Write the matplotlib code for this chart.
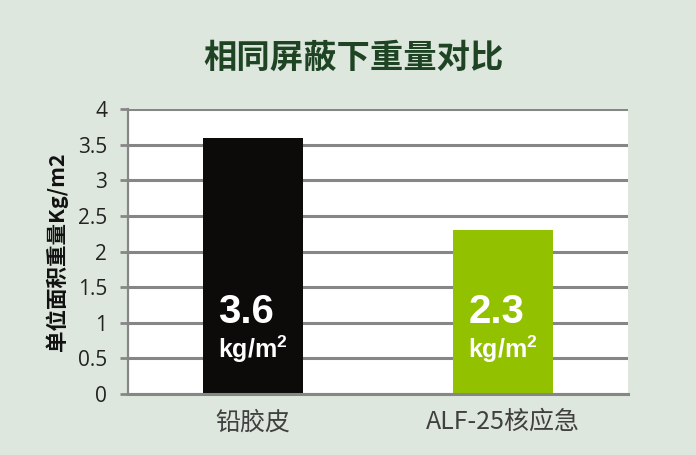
import matplotlib
matplotlib.use('Agg')
import matplotlib.pyplot as plt

categories = ['铅胶皮', 'ALF-25核应急']
weights = [3.6, 2.3]
value_labels = ['3.6', '2.3']
bar_colors = ['#0c0b0a', '#92c100']
y_ticks = [0, 0.5, 1, 1.5, 2, 2.5, 3, 3.5, 4]
y_tick_labels = ['0', '0.5', '1', '1.5', '2', '2.5', '3', '3.5', '4']

bg = '#dee7de'
grid_gray = '#868686'
cjk = ['Noto Sans CJK SC', 'DejaVu Sans']

plt.rcParams['mathtext.fontset'] = 'custom'
plt.rcParams['mathtext.bf'] = 'Liberation Sans:bold'
plt.rcParams['mathtext.rm'] = 'Liberation Sans:bold'

fig = plt.figure(figsize=(6.96, 4.55), dpi=100, facecolor=bg)
ax = fig.add_axes([128 / 696, 61 / 455, 500 / 696, 285 / 455])
ax.set_facecolor('white')

x = list(range(len(categories)))
ax.bar(x, weights, width=0.4, color=bar_colors, zorder=3)

ax.set_xlim(-0.5, len(categories) - 0.5)
ax.set_ylim(0, 4)
ax.set_yticks(y_ticks)
ax.set_yticklabels(y_tick_labels, fontsize=15, color='#222222', family=['Open Sans', 'DejaVu Sans'])
ax.set_xticks(x)
ax.set_xticklabels(categories, fontsize=18, color='#404040', family=cjk)
ax.tick_params(axis='x', length=0, pad=11)
ax.tick_params(axis='y', length=6, width=2, color=grid_gray, pad=9)

ax.grid(axis='y', color=grid_gray, linewidth=2.2, zorder=1)
ax.set_axisbelow(True)
for s in ['top', 'right']:
    ax.spines[s].set_visible(False)
ax.spines['left'].set_color(grid_gray)
ax.spines['left'].set_linewidth(1.6)
ax.spines['bottom'].set_color(grid_gray)
ax.spines['bottom'].set_linewidth(2.2)
ax.spines['bottom'].set_zorder(4)

ax.set_ylabel('单位面积重量Kg/m2', fontsize=15.5, fontweight='bold', color='#111111',
              family=cjk, labelpad=7)

# value labels inside bars
for i, lab in enumerate(value_labels):
    left = i - 0.2 + 0.062
    ax.text(left, 1.15, lab, color='white', fontsize=29, fontweight='bold',
            family='Liberation Sans', ha='left', va='center', zorder=5)
    ax.text(left, 0.63, r'kg/m$^{\mathbf{2}}$', color='white', fontsize=18, fontweight='bold',
            family='Liberation Sans', ha='left', va='center', zorder=5)

fig.text(354 / 696, 1 - 58 / 455, '相同屏蔽下重量对比', fontsize=24, fontweight='bold',
         color='#1e4424', family=cjk, ha='center', va='center')

fig.savefig('out.png', dpi=100, facecolor=bg)
